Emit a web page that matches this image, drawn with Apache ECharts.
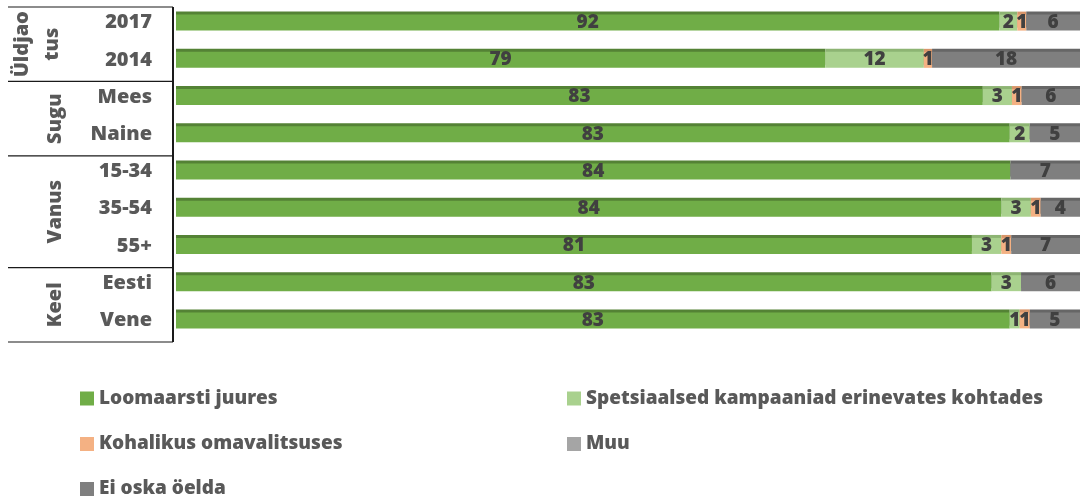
<!DOCTYPE html>
<html>
<head>
<meta charset="utf-8">
<script src="https://cdn.jsdelivr.net/npm/echarts@6/dist/echarts.min.js"></script>
<style>
html,body{margin:0;padding:0;background:#fff;}
#chart{width:1083px;height:499px;}
</style>
</head>
<body>
<div id="chart"></div>
<script>
// ---- data ----
const categories = ['2017', '2014', 'Mees', 'Naine', '15-34', '35-54', '55+', 'Eesti', 'Vene'];
const groupNames = ['Üldjao\ntus', 'Sugu', 'Vanus', 'Keel'];
const groupSizes = [2, 2, 3, 2];
const seriesNames = ['Loomaarsti juures', 'Spetsiaalsed kampaaniad erinevates kohtades', 'Kohalikus omavalitsuses', 'Muu', 'Ei oska öelda'];
const loomaarsti   = [92, 79, 83, 83, 84, 84, 81, 83, 83];
const spetsiaalsed = [2, 12, 3, 2, 0, 3, 3, 3, 1];
const kohalikus    = [1, 1, 1, 0, 0, 1, 1, 0, 1];
const muu          = [0, 0, 0, 0, 0, 0, 0, 0, 0];
const eiOska       = [6, 18, 6, 5, 7, 4, 7, 6, 5];

const raw = [loomaarsti, spetsiaalsed, kohalikus, muu, eiOska];
const colors = ['#70ad47', '#a9d18e', '#f4b183', '#a5a5a5', '#7f7f7f'];
const topColors = ['#548235', '#8db473', '#d8956a', '#8a8a8a', '#666666'];

const totals = categories.map((c, i) => raw.reduce((s, arr) => s + arr[i], 0));

const FONT = '"Open Sans", "Noto Sans", sans-serif';
const W = 800;

const chart = echarts.init(document.getElementById('chart'), null, {renderer: 'canvas'});

const series = raw.map((arr, k) => ({
  name: seriesNames[k],
  type: 'bar',
  stack: 'total',
  barWidth: 16,
  data: arr.map((v, i) => v / totals[i] * 100),
  itemStyle: {
    color: colors[k],
    shadowColor: topColors[k],
    shadowBlur: 0,
    shadowOffsetX: 0,
    shadowOffsetY: -3
  },
  label: {
    show: true,
    position: 'inside',
    color: '#404040',
    fontFamily: FONT,
    fontWeight: W,
    fontSize: 19,
    formatter: p => (arr[p.dataIndex] > 0 ? String(arr[p.dataIndex]) : '')
  },
  emphasis: {disabled: true}
}));

const legendText = {color: '#595959', fontFamily: FONT, fontWeight: W, fontSize: 19};
// legend layout: [series index, left, top]
const legendSlots = [[0, 80, 389], [1, 567, 389], [2, 80, 434.5], [3, 567, 434.5], [4, 80, 479.5]];
const legends = legendSlots.map(([k, left, top]) => ({
  left: left, top: top, orient: 'horizontal', padding: 0,
  itemWidth: 14, itemHeight: 14, icon: 'rect',
  data: [seriesNames[k]],
  textStyle: legendText
}));

chart.setOption({
  animation: false,
  backgroundColor: '#ffffff',
  grid: {left: 176, right: 3, top: 4, height: 335, containLabel: false},
  xAxis: {type: 'value', min: 0, max: 100, show: false},
  yAxis: {
    type: 'category',
    inverse: true,
    data: categories,
    axisLine: {show: false},
    axisTick: {show: false},
    splitLine: {show: false},
    axisLabel: {
      margin: 24,
      color: '#595959',
      fontFamily: FONT,
      fontWeight: W,
      fontSize: 20,
      padding: [6, 0, 0, 0]
    }
  },
  legend: legends,
  series: series
});

// ---- left table (group labels + lines) computed from the axis ----
const gridTop = 4, gridH = 335;
const rowH = gridH / categories.length;
const elements = [];
const lineY = [];
let start = 0;
lineY.push(gridTop + 3);
groupSizes.forEach((n, g) => {
  const y0 = gridTop + start * rowH + 3;
  const y1 = gridTop + (start + n) * rowH + 3;
  lineY.push(y1);
  elements.push({
    type: 'text',
    x: g === 0 ? 37 : 55,
    y: (y0 + y1) / 2,
    rotation: Math.PI / 2,
    style: {
      text: groupNames[g],
      fill: '#595959',
      font: W + ' 20px ' + FONT,
      align: 'center',
      verticalAlign: 'middle',
      lineHeight: 30
    }
  });
  start += n;
});
lineY.forEach(y => {
  elements.push({
    type: 'line',
    shape: {x1: 8, y1: y, x2: 173, y2: y},
    style: {stroke: '#1a1a1a', lineWidth: 1.2}
  });
});
elements.push({
  type: 'line',
  shape: {x1: 173, y1: lineY[0], x2: 173, y2: lineY[lineY.length - 1]},
  style: {stroke: '#1a1a1a', lineWidth: 2}
});
chart.setOption({graphic: {elements: elements}});
</script>
</body>
</html>
